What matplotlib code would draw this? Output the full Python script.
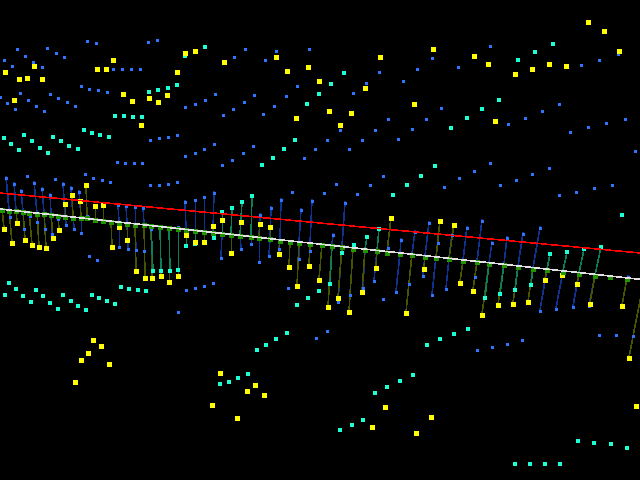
import numpy as np
from matplotlib import pyplot as plt

# points without a stem
blue_x = [17,25,4,12,33,42,47,56,64,87,96,148,157,113,122,131,140,81,89,98,107,20,0,28,7,36,15,44,50,58,67,75,185,195,205,215,223,233,244,254,263,274,286,297,245,234,265,276,309,150,159,168,177,185,195,204,214,232,243,253,315,304,
          490,432,379,417,458,366,403,353,441,388,426,375,412,340,327,362,349,398,508,525,542,559,570,588,606,625,635,581,599,618,
          222,117,125,134,142,27,55,85,93,102,110,150,159,168,177,292,89,97,186,195,204,213,288,178,
          336,324,357,370,383,444,459,474,490,500,516,532,549,559,576,594,612,383,316,327,477,492,507,522,599,616,633]
blue_y = [48,55,59,65,61,66,47,52,56,40,42,41,39,68,68,68,68,85,88,89,91,92,96,99,102,105,108,110,93,97,101,105,106,103,99,93,114,108,101,94,113,105,95,85,48,56,59,50,48,139,137,136,134,155,152,148,143,159,152,145,148,157,
          45,57,71,68,66,82,80,92,107,118,118,129,128,129,139,139,148,138,123,117,110,103,131,126,122,118,150,64,59,53,
          164,161,162,162,162,175,178,173,177,179,181,184,184,183,181,191,255,259,289,287,285,282,287,311,
          183,192,193,184,175,186,177,170,162,184,179,173,167,194,191,187,184,298,337,330,349,346,343,339,334,334,335]

cyan_x = [149,158,168,177,205,185,195,115,124,133,142,84,92,100,109,4,11,19,24,32,40,48,53,61,69,78,307,319,295,284,273,
          344,331,553,535,518,499,482,467,451,
          9,16,36,23,43,5,31,50,58,63,71,78,86,92,99,107,115,121,129,138,146,262,308,297,319,
          435,421,407,393,622,287,276,266,257,248,238,229,220,
          427,440,454,468,413,400,387,375,363,352,340,578,594,611,627,515,530,545,560]
cyan_y = [92,90,88,85,47,56,52,116,116,117,117,130,133,135,137,138,144,150,135,141,148,153,137,141,146,149,104,94,140,149,158,
          73,84,44,52,60,100,109,118,128,
          283,289,290,296,296,295,302,303,309,295,301,306,310,295,298,301,304,287,289,290,291,165,298,305,291,
          166,176,185,195,215,333,339,345,350,374,378,382,384,
          345,339,334,329,375,381,387,393,420,425,430,441,443,444,448,464,464,464,464]

yellow_x = [185,195,5,19,27,42,34,14,97,106,113,177,224,276,287,308,319,123,132,149,158,167,141,296,
            380,433,474,488,365,515,532,549,566,588,604,619,414,329,351,340,495,
            93,101,88,81,109,75,220,255,247,264,212,237,385,372,431,416,636]
yellow_y = [52,50,71,78,77,78,65,99,68,68,59,71,61,56,70,66,80,93,100,97,101,94,124,117,
            56,48,55,63,87,73,68,63,65,21,30,50,103,110,112,124,120,
            339,345,352,359,363,381,372,384,390,394,404,417,406,426,416,432,405]

# points with a stem down or up to the ground line
stem_blue_x = [6,14,21,34,42,50,63,71,79,118,126,135,143,185,195,204,214,260,271,281,301,312,
               10,30,37,58,24,45,52,66,74,81,87,119,128,136,144,151,178,221,241,251,259,269,279,299,310,
               345,333,363,374,396,388,401,409,415,429,423,432,438,446,452,467,475,482,492,507,523,540,540,556,573,589,628,338,350]
stem_blue_y = [177,183,190,182,188,194,183,187,191,204,205,206,207,201,199,196,192,214,207,199,209,200,
               216,215,221,218,228,228,233,224,228,232,215,246,248,249,250,228,226,257,248,243,261,255,248,258,250,
               202,234,287,280,291,247,239,283,231,222,275,294,242,288,234,227,276,220,242,237,233,227,310,308,306,305,276,301,294]

stem_cyan_x = [153,161,170,178,186,195,214,222,232,242,252,367,379,354,342,330,485,500,515,531,550,567,584,601]
stem_cyan_y = [271,271,271,270,246,244,238,212,208,202,196,237,229,245,253,284,298,294,290,285,254,252,249,247]

stem_yellow_x = [4,12,17,25,32,39,46,53,59,65,72,80,86,95,103,112,119,127,136,145,152,161,169,178,186,195,204,213,222,231,241,251,260,270,279,289,297,309,319,
                 328,338,349,362,376,391,406,424,440,454,460,473,482,498,513,528,545,562,577,590,622,629]
stem_yellow_y = [228,242,222,239,244,246,247,237,229,203,194,200,184,205,204,246,226,239,270,277,277,275,281,275,234,241,241,225,219,252,221,236,223,226,253,266,285,265,279,
                 306,297,311,291,267,217,312,268,220,224,282,290,314,304,303,301,279,274,283,303,305,357]

# ground points along the white line, the last one sits just off the right edge
ground_x = [2,9,16,23,29,37,44,51,58,65,73,81,87,95,103,111,119,127,135,144,151,160,169,178,186,195,204,213,222,231,240,251,259,270,280,290,299,310,
            322,332,342,353,365,377,387,400,412,425,436,449,463,477,489,504,518,533,547,563,579,595,610,627,644]
ground_y = [209,210,210,211,212,213,213,214,215,216,217,217,217,219,220,221,222,223,224,224,225,226,227,228,229,230,231,232,233,234,235,236,237,238,240,241,242,243,
            244,245,246,248,249,250,252,253,254,256,257,258,260,261,263,264,266,268,269,271,273,275,276,278,280]

line_x = [0, 640]
white_y = [209, 279.3]
red_y = [193, 253]

blue = '#2f75ff'
cyan = '#1dffd5'
yellow = '#ffff00'
green = '#1f9600'

fig = plt.figure(figsize=(6.4, 4.8), dpi=100, facecolor='black')
ax = fig.add_axes([0, 0, 1, 1])
ax.set_facecolor('black')
ax.set_xlim(0, 640)
ax.set_ylim(480, 0)
ax.axis('off')

gx = np.array(ground_x)
gy = np.array(ground_y)


def draw_stems(xs, ys, color):
    for x, y in zip(xs, ys):
        lean = (180 - x) / 2200
        i = np.argmin(np.abs(gx - (x + lean * (gy - y))))
        ax.plot([x, gx[i]], [y, gy[i]], color=color, lw=0.4, antialiased=False, zorder=1)


def draw_squares(xs, ys, size, color, z):
    # scatter markers only come out with even widths, short bars snap to exact pixels
    bottom = np.array(ys) - size / 2 + size % 2
    ax.bar(xs, size, width=size, bottom=bottom, color=color, linewidth=0, zorder=z)


draw_stems(stem_blue_x, stem_blue_y, '#0f3290')
draw_stems(stem_yellow_x, stem_yellow_y, '#465400')
draw_stems(stem_cyan_x, stem_cyan_y, '#0b7d58')

draw_squares(blue_x + stem_blue_x, blue_y + stem_blue_y, 3, blue, 2)
draw_squares(cyan_x + stem_cyan_x, cyan_y + stem_cyan_y, 4, cyan, 3)
draw_squares(yellow_x + stem_yellow_x, yellow_y + stem_yellow_y, 5, yellow, 4)
draw_squares(ground_x, ground_y, 5, green, 5)

ax.plot(line_x, red_y, color='#ff0000', lw=0.4, antialiased=False, zorder=6)
ax.plot(line_x, white_y, color='#e0e0e0', lw=0.4, antialiased=False, zorder=6)

fig.savefig('out.png', dpi=100, facecolor='black')
